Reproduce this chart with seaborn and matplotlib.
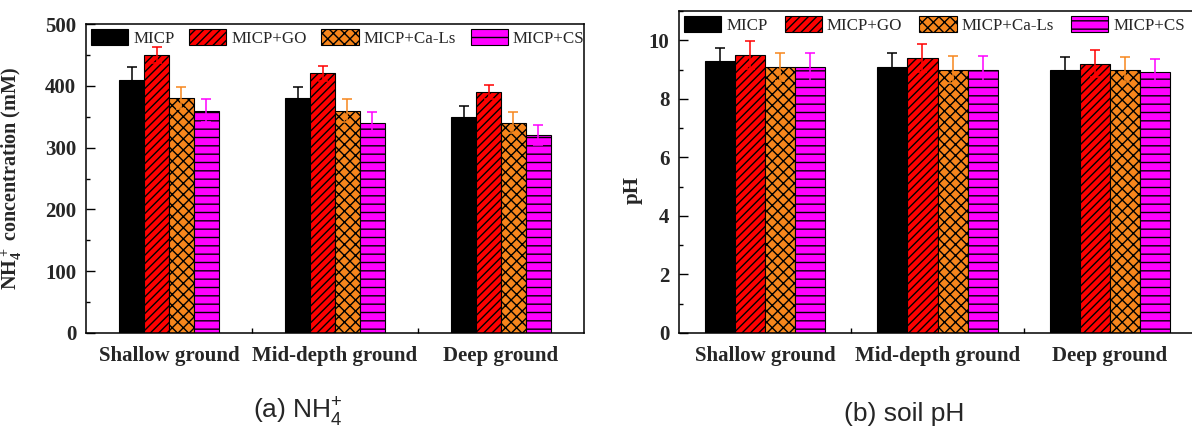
import matplotlib
matplotlib.use("Agg")
import matplotlib.pyplot as plt
from matplotlib.ticker import MultipleLocator, FixedLocator
import seaborn as sns
import pandas as pd

# ---------------- data ----------------
depths = ["Shallow ground", "Mid-depth ground", "Deep ground"]
treatments = ["MICP", "MICP+GO", "MICP+Ca-Ls", "MICP+CS"]

nh4_micp = [410, 380, 350]
nh4_go = [450, 420, 390]
nh4_cals = [380, 360, 340]
nh4_cs = [360, 340, 320]
nh4_err_micp = [20, 18, 17]
nh4_err_go = [13, 12, 12]
nh4_err_cals = [18, 18, 17]
nh4_err_cs = [18, 17, 16]

ph_micp = [9.3, 9.1, 9.0]
ph_go = [9.5, 9.4, 9.2]
ph_cals = [9.1, 9.0, 9.0]
ph_cs = [9.1, 9.0, 8.9]
ph_err_micp = [0.45, 0.46, 0.43]
ph_err_go = [0.47, 0.48, 0.47]
ph_err_cals = [0.48, 0.46, 0.43]
ph_err_cs = [0.48, 0.46, 0.45]

colors = ["#000000", "#FF0000", "#F7861C", "#FF00FF"]
hatches = [None, "////", "xxx", "--"]

# ---------------- style ----------------
sns.set_theme(style="ticks")
plt.rcParams["font.family"] = ["Liberation Serif", "DejaVu Serif"]
plt.rcParams["mathtext.fontset"] = "custom"
plt.rcParams["mathtext.rm"] = "Liberation Serif"
plt.rcParams["mathtext.bf"] = "Liberation Serif:bold"
plt.rcParams["mathtext.sf"] = "Liberation Sans"
plt.rcParams["hatch.linewidth"] = 1.0
plt.rcParams["axes.linewidth"] = 1.1


def long_df(vals, errs):
    rows = []
    for t, v, e in zip(treatments, vals, errs):
        for d, vv, ee in zip(depths, v, e):
            rows.append({"Depth": d, "Treatment": t, "value": vv, "err": ee})
    return pd.DataFrame(rows)


df_nh4 = long_df([nh4_micp, nh4_go, nh4_cals, nh4_cs],
                 [nh4_err_micp, nh4_err_go, nh4_err_cals, nh4_err_cs])
df_ph = long_df([ph_micp, ph_go, ph_cals, ph_cs],
                [ph_err_micp, ph_err_go, ph_err_cals, ph_err_cs])

W, H = 1192, 428
fig = plt.figure(figsize=(W / 100, H / 100), dpi=100)
ax1 = fig.add_axes([86 / W, 1 - 333 / H, 498 / W, 309 / H])
ax2 = fig.add_axes([679 / W, 1 - 333 / H, 517 / W, 322 / H])


def draw(ax, df, width, ylim, major, minor, leg_fs, leg_hl, leg_cs):
    sns.barplot(data=df, x="Depth", y="value", hue="Treatment",
                order=depths, hue_order=treatments, palette=colors,
                saturation=1, width=width, errorbar=None, edgecolor="black",
                linewidth=0.8, legend=False, ax=ax)
    bar_conts = list(ax.containers)
    handles = []
    for i, cont in enumerate(bar_conts):
        errs = df[df["Treatment"] == treatments[i]].set_index("Depth").loc[depths, "err"].values
        xs, ys = [], []
        for p in cont.patches:
            if hatches[i]:
                p.set_hatch(hatches[i])
            xs.append(p.get_x() + p.get_width() / 2)
            ys.append(p.get_height())
        ax.errorbar(xs, ys, yerr=errs, fmt="none", ecolor=colors[i],
                    elinewidth=1.1, capsize=3.5, capthick=1.1, zorder=5)
        handles.append(cont.patches[0])
    ax.set_xlim(-0.5, 2.5)
    ax.set_ylim(*ylim)
    ax.set_xlabel("")
    ax.yaxis.set_major_locator(MultipleLocator(major))
    ax.yaxis.set_minor_locator(MultipleLocator(minor))
    ax.xaxis.set_minor_locator(FixedLocator([0.5, 1.5]))
    ax.tick_params(axis="y", which="major", direction="in", length=6.5,
                   width=1.0, labelsize=15, pad=7, color="black")
    ax.tick_params(axis="y", which="minor", direction="in", length=3.2,
                   width=1.0, color="black")
    ax.tick_params(axis="x", which="major", length=0, labelsize=15, pad=9)
    ax.tick_params(axis="x", which="minor", direction="in", length=3.5,
                   width=1.0, color="black")
    for lab in ax.get_xticklabels() + ax.get_yticklabels():
        lab.set_fontweight("bold")
    for s in ax.spines.values():
        s.set_visible(True)
        s.set_color("black")
    leg = ax.legend(handles=handles, labels=treatments, loc="upper left",
                    bbox_to_anchor=(0, 1), ncol=4, frameon=False,
                    fontsize=leg_fs, handlelength=leg_hl, handleheight=1.1,
                    handletextpad=0.3, columnspacing=leg_cs, borderaxespad=0.0,
                    borderpad=0.3)
    return leg


draw(ax1, df_nh4, 0.6, (0, 500), 100, 50, 12.2, 2.2, 0.85)
draw(ax2, df_ph, 0.7, (0, 11), 2, 1, 12.2, 2.2, 1.0)

ax1.set_ylabel(r"$\mathbf{NH_4^+}$ concentration (mM)", fontsize=14.5,
               fontweight="bold")
ax1.yaxis.set_label_coords(-0.125, 0.5)
ax2.set_ylabel("pH", fontsize=15, fontweight="bold")
ax2.yaxis.set_label_coords(-0.07, 0.445)

fig.text(298 / W, 1 - 418 / H, r"(a) NH$_\mathsf{4}^\mathsf{+}$",
         family="Liberation Sans", fontsize=19, ha="center", va="baseline")
fig.text(904 / W, 1 - 421 / H, "(b) soil pH",
         family="Liberation Sans", fontsize=19, ha="center", va="baseline")

fig.savefig("out.png", dpi=100)
